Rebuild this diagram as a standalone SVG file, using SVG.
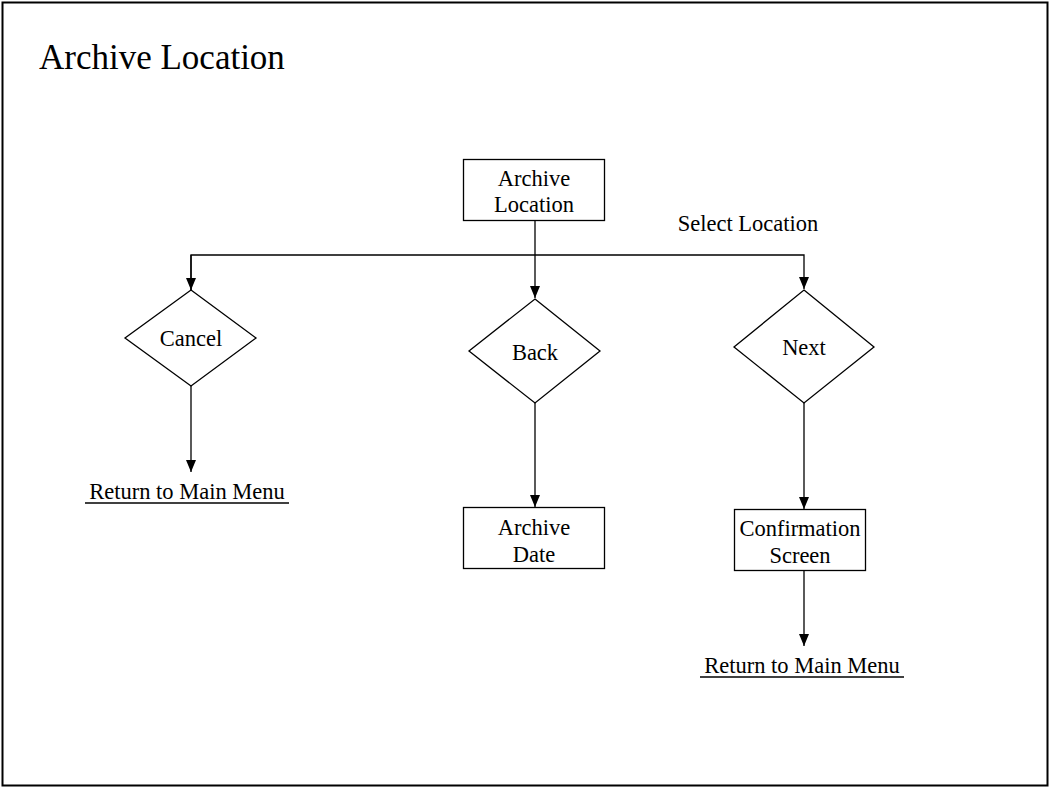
<svg xmlns="http://www.w3.org/2000/svg" width="1050" height="789" viewBox="0 0 1050 789">
<defs>
<marker id="ah" viewBox="0 0 12 10" refX="12" refY="5" markerWidth="12" markerHeight="10" markerUnits="userSpaceOnUse" orient="auto">
<path d="M0,0 L12,5 L0,10 z" fill="#000"/>
</marker>
<style>
.t{font-family:"Liberation Serif","Times New Roman",serif;font-size:22.5px;fill:#000;text-anchor:middle}
.box{fill:#fff;stroke:#000;stroke-width:1.3}
.ln{fill:none;stroke:#000;stroke-width:1.3}
.u{stroke:#000;stroke-width:1.5}
</style>
</defs>
<rect x="0" y="0" width="1050" height="789" fill="#fff"/>
<rect x="2.5" y="2.5" width="1045" height="783" fill="none" stroke="#000" stroke-width="2"/>
<text x="39" y="69" style="font-family:'Liberation Serif','Times New Roman',serif;font-size:35px">Archive Location</text>

<g id="connectors">
<line class="ln" x1="535" y1="220" x2="535" y2="298" marker-end="url(#ah)"/>
<polyline class="ln" points="191,290 191,255 804,255 804,289" marker-end="url(#ah)"/>
<line class="ln" x1="191" y1="255" x2="191" y2="290" marker-end="url(#ah)"/>
<line class="ln" x1="191" y1="386" x2="191" y2="472" marker-end="url(#ah)"/>
<line class="ln" x1="535" y1="403" x2="535" y2="507" marker-end="url(#ah)"/>
<line class="ln" x1="804" y1="403" x2="804" y2="509" marker-end="url(#ah)"/>
<line class="ln" x1="804" y1="571" x2="804" y2="646" marker-end="url(#ah)"/>
<text class="t" x="748" y="231">Select Location</text>
</g>

<g id="archive-location">
<rect class="box" x="463.5" y="159.5" width="141" height="61"/>
<text class="t" x="534" y="186">Archive</text>
<text class="t" x="534" y="212">Location</text>
</g>

<g id="cancel">
<polygon class="box" points="191,290 256,338 191,386 125,338"/>
<text class="t" x="191" y="346">Cancel</text>
</g>

<g id="back">
<polygon class="box" points="535,299 600,351 535,403 469,351"/>
<text class="t" x="535" y="360">Back</text>
</g>

<g id="next">
<polygon class="box" points="804,290 874,347 804,403 734,347"/>
<text class="t" x="804" y="355">Next</text>
</g>

<g id="return-left">
<text class="t" x="187" y="499">Return to Main Menu</text>
<line class="u" x1="85" y1="503" x2="289" y2="503"/>
</g>

<g id="archive-date">
<rect class="box" x="463.5" y="507.5" width="141" height="61"/>
<text class="t" x="534" y="535">Archive</text>
<text class="t" x="534" y="562">Date</text>
</g>

<g id="confirmation-screen">
<rect class="box" x="734.5" y="509.5" width="131" height="61"/>
<text class="t" x="800" y="536">Confirmation</text>
<text class="t" x="800" y="563">Screen</text>
</g>

<g id="return-right">
<text class="t" x="802" y="673">Return to Main Menu</text>
<line class="u" x1="700" y1="677" x2="904" y2="677"/>
</g>
</svg>
